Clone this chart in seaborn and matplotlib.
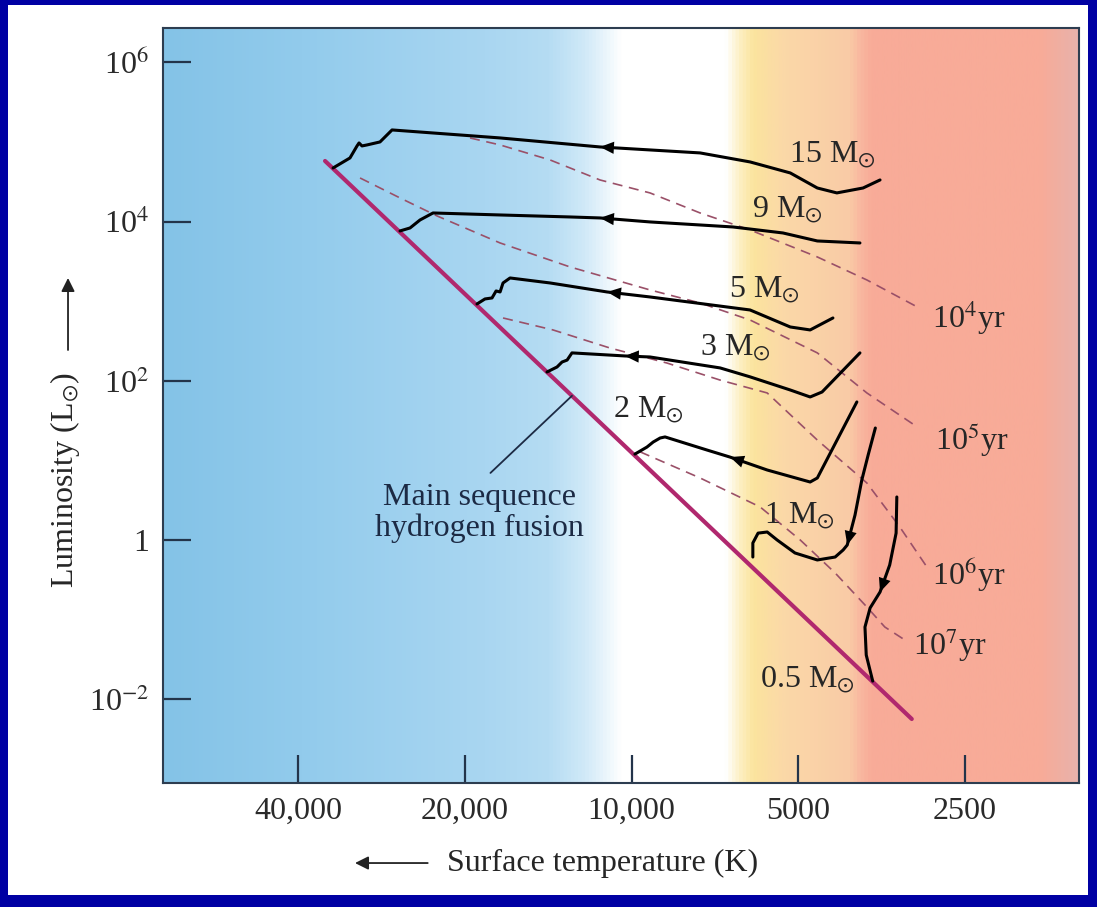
import matplotlib
matplotlib.use("Agg")
import matplotlib.pyplot as plt
from matplotlib.colors import LinearSegmentedColormap
from matplotlib.patches import Rectangle
import numpy as np
import pandas as pd
import seaborn as sns

# ---------------------------------------------------------------------
# Data: surface temperature (K), luminosity (L_sun)
# ---------------------------------------------------------------------

# zero-age main sequence
ms_temp = [35750, 3120]
ms_lum = [57700, 0.00564]

# pre-main-sequence tracks, listed from the main sequence outward
t15 = [34580, 32230, 31300, 31040, 30660, 30030, 28450, 27060, 17270, 11400,
       7520, 6110, 5170, 4620, 4260, 3820, 3560]
l15 = [47100, 62950, 89100, 97100, 89100, 91700, 100000, 141500, 112300,
       86500, 72800, 56100, 40800, 26400, 22900, 26400, 33300]

t9 = [26180, 25110, 24090, 22820, 17270, 12910, 11400, 9260, 6560, 5330,
      4620, 3870]
l9 = [7620, 8310, 10470, 12820, 12100, 11420, 11100, 9890, 8550, 7190,
      5705, 5385]

t5 = [19010, 18390, 17860, 17560, 17270, 17060, 16570, 14030, 11070, 9260,
      6110, 5170, 4760, 4330]
l5 = [922, 1066, 1097, 1343, 1305, 1693, 1956, 1693, 1305, 1129, 775, 474,
      435, 615]

t3 = [14210, 13630, 13350, 13070, 12810, 10280, 9260, 6920, 6110, 5170,
      4760, 4530, 3870]
l3 = [129, 149, 172, 182, 224, 205, 199, 145, 112, 76.6, 62.6, 72.3, 224]

t2 = [9860, 9380, 9140, 8880, 8700, 7310, 6640, 5690, 4760, 4620, 3920]
l2 = [12.0, 14.7, 17.0, 19.1, 19.7, 13.5, 11.0, 7.57, 5.35, 6.01, 54.2]

t1 = [6040, 6040, 5910, 5690, 5460, 5070, 4620, 4290, 4150, 4080, 3950,
      3840, 3740, 3630]
l1 = [0.611, 0.917, 1.22, 1.26, 1.0, 0.687, 0.561, 0.611, 0.749, 0.865,
      2.06, 5.67, 11.7, 25.5]

t05 = [3670, 3770, 3790, 3710, 3560, 3420, 3330, 3320]
l05 = [0.0169, 0.0359, 0.0807, 0.140, 0.222, 0.485, 1.22, 3.47]

track_names = ["15", "9", "5", "3", "2", "1", "0.5"]
# index of the point where each direction arrow sits
arrow_at = [9, 6, 8, 5, 6, 9, 4]

# isochrones (dashed)
iso4_t = [19570, 17270, 14030, 11400, 9260, 7520, 6110, 4620, 3760, 3050]
iso4_l = [112300, 91700, 59400, 33300, 22880, 12820, 7844, 3592, 1846, 846]
iso5_t = [30910, 26180, 22440, 17270, 12910, 9260, 7520, 6110, 4620, 3760,
          3050]
iso5_l = [35290, 19800, 11760, 5385, 2689, 1383, 949, 580, 224, 70.3, 26.3]
iso6_t = [17060, 13860, 10940, 8630, 6920, 5690, 4620, 3760, 3280, 2930]
iso6_l = [615, 435, 258, 167, 102, 70.3, 18.0, 5.20, 1.46, 0.458]
iso7_t = [9650, 7520, 5860, 4960, 4290, 3760, 3490, 3210]
iso7_l = [12.8, 6.01, 2.60, 1.0, 0.385, 0.144, 0.0807, 0.0554]
iso_names = ["10$^4$yr", "10$^5$yr", "10$^6$yr", "10$^7$yr"]

temp_ticks = [40000, 20000, 10000, 5000, 2500]
temp_ticklabels = ["40,000", "20,000", "10,000", "5000", "2500"]
lum_ticks = [1e6, 1e4, 1e2, 1, 1e-2]
lum_ticklabels = ["10$^6$", "10$^4$", "10$^2$", "1", "10$^{-2}$"]

ms_pointer_temp = 12810

# ---------------------------------------------------------------------
# Tidy tables for seaborn
# ---------------------------------------------------------------------

track_t = [t15, t9, t5, t3, t2, t1, t05]
track_l = [l15, l9, l5, l3, l2, l1, l05]
tracks = pd.concat(
    [pd.DataFrame({"mass": m, "temp": t, "lum": l})
     for m, t, l in zip(track_names, track_t, track_l)],
    ignore_index=True,
)
isochrones = pd.concat(
    [pd.DataFrame({"age": a, "temp": t, "lum": l})
     for a, t, l in zip(iso_names, [iso4_t, iso5_t, iso6_t, iso7_t],
                        [iso4_l, iso5_l, iso6_l, iso7_l])],
    ignore_index=True,
)

# ---------------------------------------------------------------------
# Figure
# ---------------------------------------------------------------------

sns.set_theme(style="ticks")
plt.rcParams["font.family"] = ["Liberation Serif", "DejaVu Serif"]
plt.rcParams["mathtext.fontset"] = "stix"

W, H = 1097, 907
fig = plt.figure(figsize=(W / 100, H / 100), dpi=100, facecolor="#0000a3")
fig.add_artist(Rectangle((8 / W, 12 / H), (W - 17) / W, (H - 17) / H,
                         transform=fig.transFigure, facecolor="white",
                         edgecolor="none", zorder=-5))

pos = [163 / W, 1 - 783 / H, 916 / W, 755 / H]

# colour band behind the diagram
bg_cmap = LinearSegmentedColormap.from_list("hr_bg", [
    (0.00, "#84c3e7"), (0.15, "#92cbec"), (0.35, "#a9d6f1"),
    (0.42, "#b5dcf3"), (0.46, "#d0e9f8"), (0.49, "#f2f9fd"),
    (0.50, "#ffffff"), (0.615, "#ffffff"), (0.63, "#fdf0c4"),
    (0.645, "#fbe49e"), (0.68, "#fbd8a8"), (0.75, "#f9cba6"),
    (0.762, "#f9b8a0"), (0.775, "#f8ab98"), (0.96, "#f8ab98"),
    (1.00, "#e8b2ab"),
])
bg = fig.add_axes(pos, zorder=0)
bg.imshow(np.linspace(0, 1, 1024)[None, :], aspect="auto", cmap=bg_cmap,
          extent=(0, 1, 0, 1))
bg.set_xlim(0, 1)
bg.set_ylim(0, 1)
bg.set_axis_off()

ax = fig.add_axes(pos, zorder=1)
ax.set_facecolor("none")
ax.set_xscale("log")
ax.set_yscale("log")

sns.lineplot(data=isochrones, x="temp", y="lum", units="age",
             estimator=None, sort=False, color="#9a5068", linewidth=1.2,
             linestyle=(0, (6, 4)), ax=ax, legend=False)
sns.lineplot(x=ms_temp, y=ms_lum, sort=False, color="#b0286e",
             linewidth=3.0, ax=ax, legend=False)
sns.lineplot(data=tracks, x="temp", y="lum", units="mass", estimator=None,
             sort=False, color="black", linewidth=2.2, ax=ax, legend=False)

# direction arrows along the tracks
for t, l, k in zip(track_t, track_l, arrow_at):
    ax.annotate("", xy=(t[k], l[k]), xytext=(t[k + 1], l[k + 1]),
                arrowprops=dict(arrowstyle="-|>,head_length=0.5,head_width=0.22",
                                mutation_scale=20, color="black", lw=0,
                                shrinkA=0, shrinkB=0))

ax.set_xlim(70110, 1557)
ax.set_ylim(8.86e-4, 2.70e6)
ax.set_xticks(temp_ticks, temp_ticklabels)
ax.set_yticks(lum_ticks, lum_ticklabels)
ax.minorticks_off()
ax.tick_params(direction="in", length=20, width=1.6, color="#23344a",
               labelsize=23, labelcolor="#2a2a2a", pad=10)
for side in ["top", "right", "bottom", "left"]:
    ax.spines[side].set_visible(True)
    ax.spines[side].set_color("#2d3d50")
    ax.spines[side].set_linewidth(1.5)
ax.set_xlabel("")
ax.set_ylabel("")

txt = dict(transform=ax.transAxes, ha="center", va="center",
           fontsize=23, color="#262626")

# track labels
mass_label_pos = [(0.731, 0.832), (0.682, 0.759), (0.657, 0.653),
                  (0.625, 0.576), (0.530, 0.494), (0.695, 0.354),
                  (0.704, 0.136)]
for m, (px, py) in zip(track_names, mass_label_pos):
    ax.text(px, py, m + " M$_{\\odot}$", **txt)

# isochrone labels
iso_label_pos = [(0.840, 0.616), (0.843, 0.454), (0.840, 0.2755),
                 (0.819, 0.183)]
for a, (px, py) in zip(iso_names, iso_label_pos):
    ax.text(px, py, a, transform=ax.transAxes, ha="left", va="center",
            fontsize=23, color="#262626")

# main-sequence callout
ptr_lum = 10 ** np.interp(np.log10(ms_pointer_temp), np.log10(ms_temp[::-1]),
                          np.log10(ms_lum[::-1]))
ax.annotate("Main sequence\nhydrogen fusion", xy=(ms_pointer_temp, ptr_lum),
            xytext=(0.346, 0.358), textcoords="axes fraction",
            ha="center", va="center", fontsize=23, color="#1c2a44",
            linespacing=1.05,
            arrowprops=dict(arrowstyle="-", color="#1c2a44", lw=1.3,
                            relpos=(0.5, 1.0), shrinkA=7, shrinkB=0))

# axis titles with their arrows
ax.text(0.480, -0.106, "Surface temperature (K)", **txt)
ax.annotate("", xy=(0.2096, -0.106), xytext=(0.289, -0.106),
            xycoords="axes fraction", annotation_clip=False,
            arrowprops=dict(arrowstyle="-|>", color="#222222", lw=1.3,
                            mutation_scale=20, shrinkA=0, shrinkB=0))
ax.text(-0.107, 0.401, "Luminosity (L$_{\\odot}$)", rotation=90, **txt)
ax.annotate("", xy=(-0.1037, 0.6689), xytext=(-0.1037, 0.5735),
            xycoords="axes fraction", annotation_clip=False,
            arrowprops=dict(arrowstyle="-|>", color="#222222", lw=1.3,
                            mutation_scale=20, shrinkA=0, shrinkB=0))

fig.savefig("out.png", dpi=100, facecolor=fig.get_facecolor())
